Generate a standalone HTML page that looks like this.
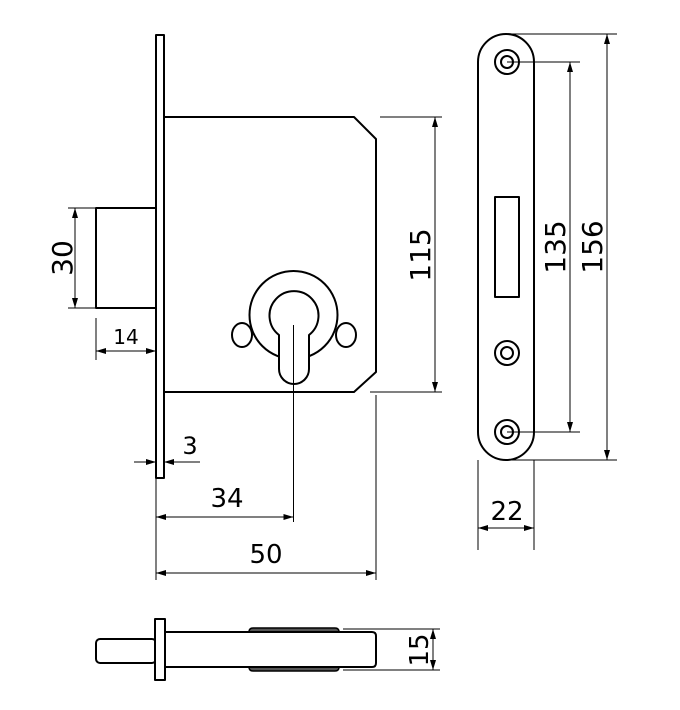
<!DOCTYPE html>
<html><head><style>body{margin:0;background:#fff}svg{display:block}</style></head><body>
<svg width="680" height="710" viewBox="0 0 680 710" xmlns="http://www.w3.org/2000/svg">
<defs>
<marker id="a" viewBox="0 0 10 6" refX="10" refY="3" markerWidth="10" markerHeight="6" orient="auto-start-reverse" markerUnits="userSpaceOnUse"><path d="M0,0 L10,3 L0,6 z" fill="#000"/></marker>
</defs>
<g fill="none" stroke="#000" stroke-width="2" stroke-linejoin="round">
<rect x="156" y="35" width="8" height="443"/>
<path d="M164,117 L354,117 L376,139 L376,372 L354,392 L164,392"/>
<path d="M156,208 L96,208 L96,308 L156,308"/>
<circle cx="293.5" cy="315" r="44"/>
<path d="M279,335 A24.5,24.5 0 1 1 309,335 L309,369 A15,15 0 0 1 279,369 Z" fill="#fff"/>
<ellipse cx="242" cy="335" rx="10" ry="12" fill="#fff"/>
<ellipse cx="346" cy="335" rx="10" ry="12" fill="#fff"/>
<rect x="478" y="34" width="56" height="426" rx="28" ry="28"/>
<rect x="495" y="197" width="24" height="100"/>
<circle cx="507" cy="62" r="12"/><circle cx="507" cy="62" r="6"/>
<circle cx="507" cy="353" r="12"/><circle cx="507" cy="353" r="6"/>
<circle cx="507" cy="432" r="12"/><circle cx="507" cy="432" r="6"/>
<rect x="96" y="639" width="60" height="24" rx="4"/>
<path d="M249,632 Q249,628 253,628 L335,628 Q339,628 339,632" fill="#555" stroke-width="1.5"/>
<path d="M249,667 Q249,671 253,671 L335,671 Q339,671 339,667" fill="#555" stroke-width="1.5"/>
<path d="M165,632 L372,632 Q376,632 376,636 L376,663 Q376,667 372,667 L165,667" fill="#fff"/>
<rect x="155" y="619" width="10" height="61" fill="#fff"/>
</g>
<g fill="none" stroke="#000" stroke-width="1">
<line x1="293.5" y1="325" x2="293.5" y2="522"/>
<line x1="380" y1="117" x2="442" y2="117"/><line x1="370" y1="392" x2="442" y2="392"/>
<line x1="435" y1="117" x2="435" y2="392" marker-start="url(#a)" marker-end="url(#a)"/>
<line x1="68" y1="208" x2="96" y2="208"/><line x1="68" y1="308" x2="96" y2="308"/>
<line x1="75" y1="208" x2="75" y2="308" marker-start="url(#a)" marker-end="url(#a)"/>
<line x1="96" y1="318" x2="96" y2="360"/>
<line x1="96" y1="351" x2="156" y2="351" marker-start="url(#a)" marker-end="url(#a)"/>
<line x1="156" y1="478" x2="156" y2="580"/><line x1="164" y1="478" x2="164" y2="470"/>
<line x1="134" y1="462" x2="156" y2="462" marker-end="url(#a)"/>
<line x1="200" y1="462" x2="164" y2="462" marker-end="url(#a)"/>
<line x1="156" y1="517" x2="293.5" y2="517" marker-start="url(#a)" marker-end="url(#a)"/>
<line x1="376" y1="395" x2="376" y2="580"/>
<line x1="156" y1="573" x2="376" y2="573" marker-start="url(#a)" marker-end="url(#a)"/>
<line x1="507" y1="62" x2="580" y2="62"/><line x1="507" y1="432" x2="580" y2="432"/>
<line x1="570" y1="62" x2="570" y2="432" marker-start="url(#a)" marker-end="url(#a)"/>
<line x1="506" y1="34" x2="617" y2="34"/><line x1="506" y1="460" x2="617" y2="460"/>
<line x1="607" y1="34" x2="607" y2="460" marker-start="url(#a)" marker-end="url(#a)"/>
<line x1="478" y1="460" x2="478" y2="550"/><line x1="534" y1="460" x2="534" y2="550"/>
<line x1="478" y1="528" x2="534" y2="528" marker-start="url(#a)" marker-end="url(#a)"/>
<line x1="343" y1="629" x2="440" y2="629"/><line x1="343" y1="670" x2="440" y2="670"/>
<line x1="433" y1="629" x2="433" y2="670" marker-start="url(#a)" marker-end="url(#a)"/>
</g>
<g font-family="DejaVu Sans, Liberation Sans, sans-serif" font-size="28" fill="#000" text-anchor="middle">
<text transform="translate(430,255) rotate(-90)">115</text>
<text transform="translate(72,258) rotate(-90)">30</text>
<text x="126" y="344" font-size="20">14</text>
<text x="190" y="454" font-size="24">3</text>
<text x="227" y="507" font-size="26">34</text>
<text x="266" y="563" font-size="26">50</text>
<text transform="translate(565,247) rotate(-90)">135</text>
<text transform="translate(602,247) rotate(-90)">156</text>
<text x="507" y="520" font-size="26">22</text>
<text transform="translate(428,650) rotate(-90)" font-size="26">15</text>
</g>
</svg>
</body></html>
